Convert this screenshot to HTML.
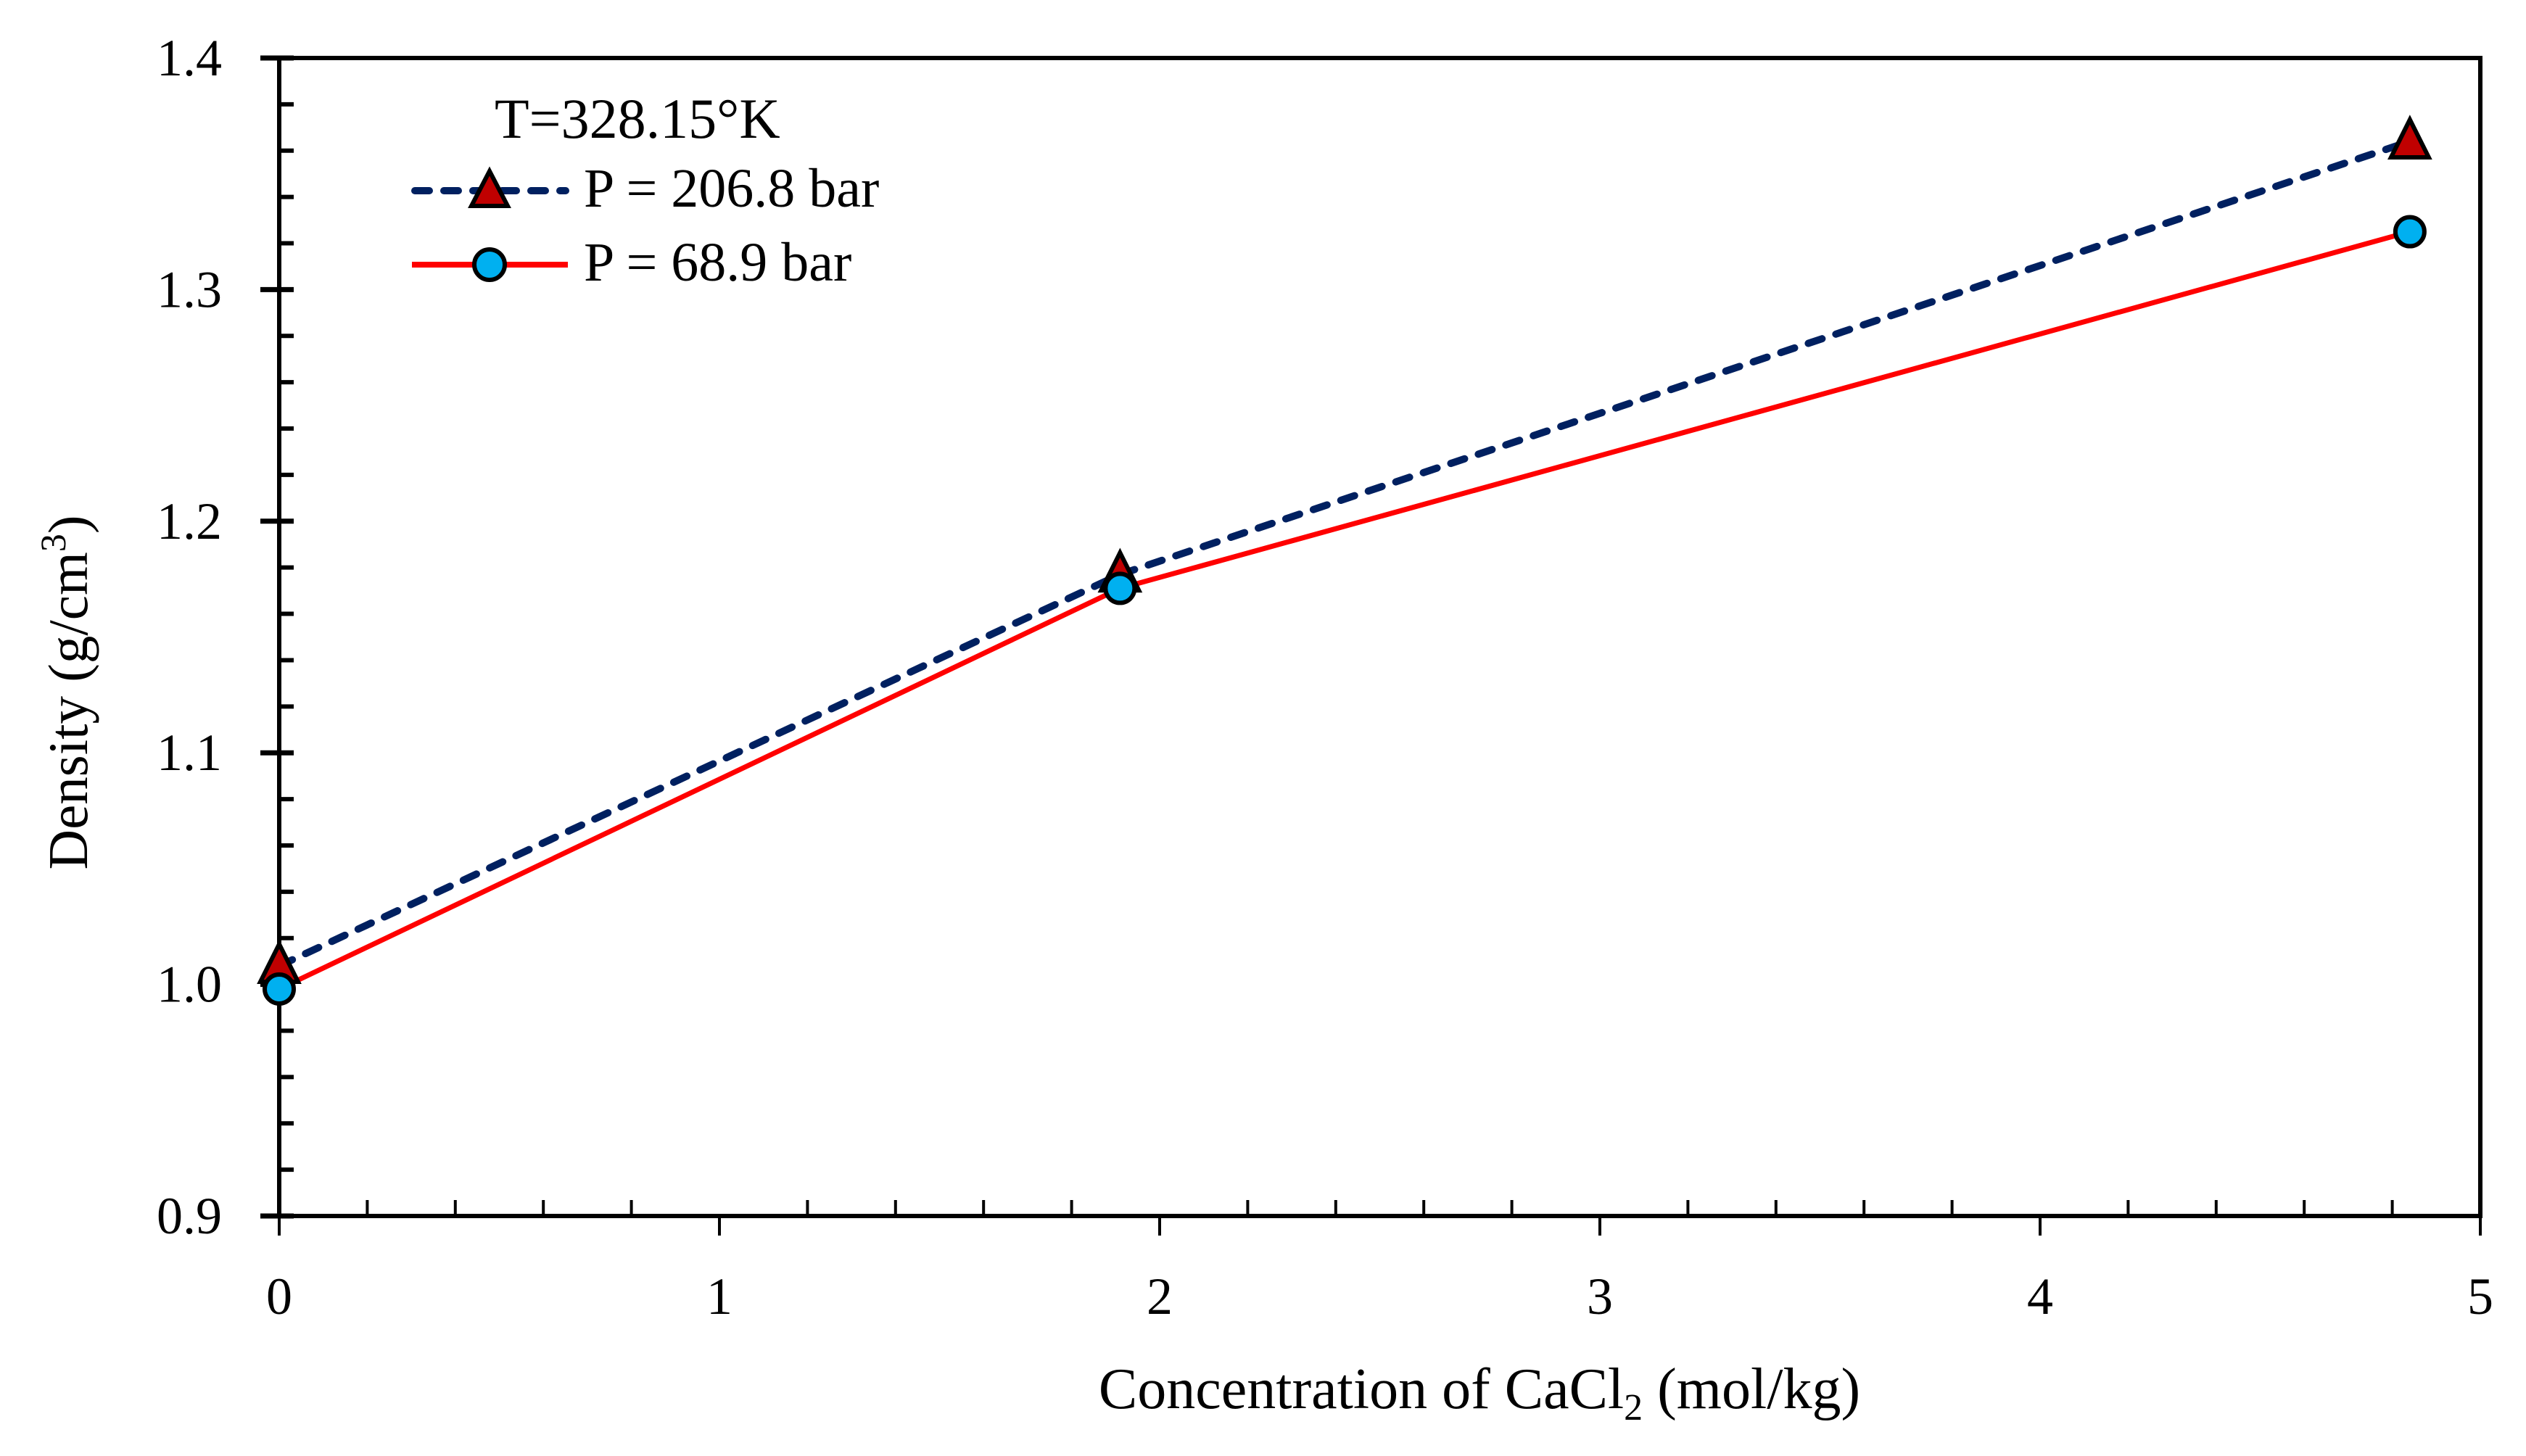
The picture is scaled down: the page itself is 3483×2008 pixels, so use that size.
<!DOCTYPE html>
<html><head><meta charset="utf-8"><style>
html,body{margin:0;padding:0;background:#fff;}
svg{display:block;font-family:"Liberation Serif",serif;}
</style></head><body>
<svg id="chart" width="3483" height="2008" viewBox="0 0 3483 2008" xmlns="http://www.w3.org/2000/svg">
<g id="axes"></g>
<g id="series"></g>
<text transform="translate(120,955) rotate(-90)" text-anchor="middle" font-size="77">Density (g/cm<tspan font-size="50" dy="-30">3</tspan><tspan dy="30">)</tspan></text>
<text x="2040" y="1942" text-anchor="middle" font-size="80">Concentration of CaCl<tspan font-size="52" dy="16">2</tspan><tspan dy="-16"> (mol/kg)</tspan></text>
<g>
<text x="682" y="190" font-size="78">T=328.15°K</text>
<g>
<line x1="572" y1="263" x2="780" y2="263" stroke="#002060" stroke-width="10" stroke-dasharray="20 20" stroke-linecap="round"/>
<polygon points="675,236 650,284 700,284" fill="#C00000" stroke="#000" stroke-width="6"/>
<text x="805" y="285" font-size="76">P = 206.8 bar</text>
</g>
<g>
<line x1="568" y1="365" x2="783" y2="365" stroke="#FF0000" stroke-width="8"/>
<circle cx="675" cy="365" r="21" fill="#00B0F0" stroke="#000" stroke-width="6"/>
<text x="805" y="387" font-size="76">P = 68.9 bar</text>
</g>
</g>
</svg>
<script>
const xVals = [0, 1.91, 4.84];
const seriesHigh = [1.008, 1.177, 1.364];
const seriesLow = [0.998, 1.171, 1.325];
const xTicks = [0, 1, 2, 3, 4, 5];
const yTicks = [0.9, 1.0, 1.1, 1.2, 1.3, 1.4];
const yTickLabels = ["0.9", "1.0", "1.1", "1.2", "1.3", "1.4"];

const X0 = 385, X1 = 3420, YT = 80, YB = 1677;
const xs = v => X0 + (v - 0) / 5 * (X1 - X0);
const ys = v => YB - (v - 0.9) / 0.5 * (YB - YT);
const NS = "http://www.w3.org/2000/svg";
function mk(tag, attrs, parent) {
  const e = document.createElementNS(NS, tag);
  for (const k in attrs) e.setAttribute(k, attrs[k]);
  parent.appendChild(e);
  return e;
}
const axes = document.getElementById('axes');
const frame = mk('rect', {x: X0, y: YT, width: X1 - X0, height: YB - YT, fill: 'none', stroke: '#000', 'stroke-width': 6}, axes);


for (let i = 1; i < 25; i++) {
  const v = i * 0.2;
  if (Math.abs(v - Math.round(v)) < 1e-6) continue;
  const t = mk('line', {x1: xs(v), x2: xs(v), y1: YB, y2: YB - 22, stroke: '#000', 'stroke-width': 4}, axes);
  
  
}
for (let i = 1; i < 25; i++) {
  const v = 0.9 + i * 0.02;
  if (i % 5 === 0) continue;
  const t = mk('line', {x1: X0, x2: X0 + 20, y1: ys(v), y2: ys(v), stroke: '#000', 'stroke-width': 6}, axes);
  
  
}
xTicks.forEach(v => {
  const t = mk('line', {x1: xs(v), x2: xs(v), y1: YB, y2: YB + 27, stroke: '#000', 'stroke-width': 4}, axes);
  
  
  const l = mk('text', {x: xs(v), y: 1812, 'text-anchor': 'middle', 'font-size': 72}, axes);
  l.textContent = String(v);
  
  
});
yTicks.forEach((v, i) => {
  const t = mk('line', {x1: X0 - 26, x2: X0 + 20, y1: ys(v), y2: ys(v), stroke: '#000', 'stroke-width': 7}, axes);
  
  
  const l = mk('text', {x: 306, y: ys(v) + 24, 'text-anchor': 'end', 'font-size': 72}, axes);
  l.textContent = yTickLabels[i];
  
  
});
const series = document.getElementById('series');
const lowLine = mk('polyline', {points: xVals.map((x, i) => xs(x) + ',' + ys(seriesLow[i])).join(' '), fill: 'none', stroke: '#FF0000', 'stroke-width': 7}, series);


const highLine = mk('polyline', {points: xVals.map((x, i) => xs(x) + ',' + ys(seriesHigh[i])).join(' '), fill: 'none', stroke: '#002060', 'stroke-width': 10, 'stroke-dasharray': '20 20', 'stroke-linecap': 'round'}, series);


xVals.forEach((x, i) => {
  const cx = xs(x), cy = ys(seriesHigh[i]);
  const tri = mk('polygon', {points: `${cx},${cy - 30} ${cx - 26},${cy + 22} ${cx + 26},${cy + 22}`, fill: '#C00000', stroke: '#000', 'stroke-width': 6}, series);
  
  
});
xVals.forEach((x, i) => {
  const c = mk('circle', {cx: xs(x), cy: ys(seriesLow[i]), r: 20, fill: '#00B0F0', stroke: '#000', 'stroke-width': 6}, series);
  
  
});
</script>
</body></html>
